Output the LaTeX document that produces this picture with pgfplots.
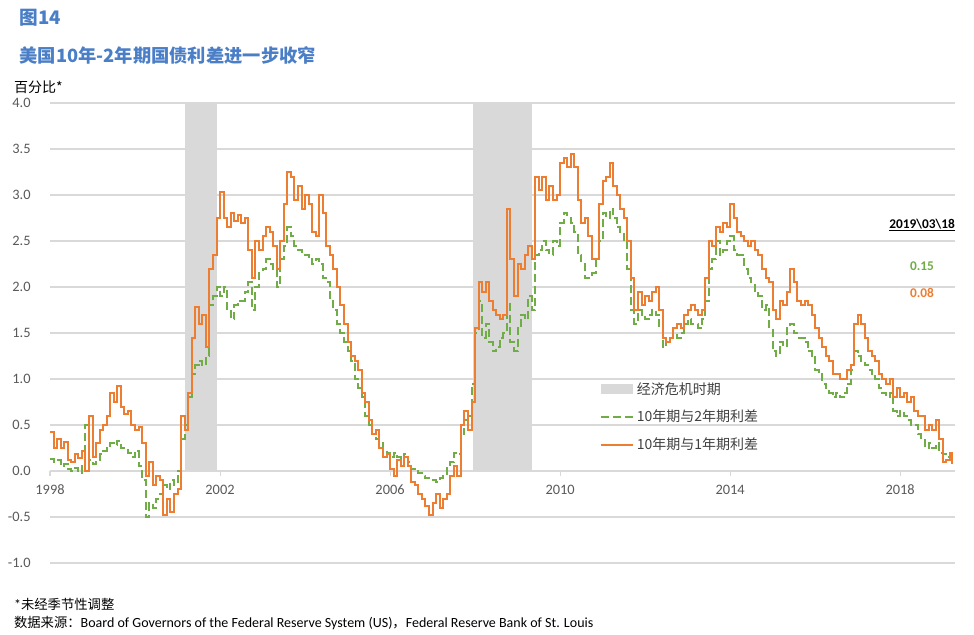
\documentclass[border=0pt]{standalone}
\usepackage{pgfplots}
\pgfplotsset{compat=1.18}
\usepackage{pgfplotstable}
\usepackage{fontspec}
\setmainfont{Carlito}
\newfontfamily\cjk{Noto Sans CJK SC}

\definecolor{ora}{HTML}{ED7D31}
\definecolor{grn}{HTML}{70AD47}
\definecolor{recess}{HTML}{D9D9D9}
\definecolor{gridc}{HTML}{D9D9D9}
\definecolor{tickc}{HTML}{595959}
\definecolor{legc}{HTML}{404040}
\definecolor{titleblue}{HTML}{4A7EC6}

\pgfplotsset{
  lineleg/.style={legend image code/.code={\draw[##1] (0cm,0cm) -- (0.85cm,0cm);}},
  boxleg/.style={legend image code/.code={\fill[recess] (0cm,-0.13cm) rectangle (0.85cm,0.13cm);}},
}

% monthly values: t = year, o = 10y-1y spread, g = 10y-2y spread
\pgfplotstableread[row sep=\\]{
t o g \\
1998.000 0.42 0.13 \\ 1998.083 0.25 0.10 \\ 1998.167 0.35 0.12 \\ 1998.250 0.25 0.05 \\ 1998.333 0.32 0.08 \\ 1998.417 0.12 0.02 \\
1998.500 0.10 0.00 \\ 1998.583 0.18 0.03 \\ 1998.667 0.14 -0.02 \\ 1998.750 0.22 0.08 \\ 1998.833 0.00 0.50 \\ 1998.917 0.60 0.12 \\
1999.000 0.15 0.08 \\ 1999.083 0.30 0.12 \\ 1999.167 0.45 0.18 \\ 1999.250 0.50 0.22 \\ 1999.333 0.60 0.25 \\ 1999.417 0.85 0.30 \\
1999.500 0.75 0.28 \\ 1999.583 0.92 0.33 \\ 1999.667 0.70 0.25 \\ 1999.750 0.62 0.25 \\ 1999.833 0.65 0.20 \\ 1999.917 0.50 0.15 \\
2000.000 0.45 0.22 \\ 2000.083 0.48 0.05 \\ 2000.167 0.30 -0.10 \\ 2000.250 -0.05 -0.50 \\ 2000.333 0.10 -0.35 \\ 2000.417 -0.15 -0.40 \\
2000.500 -0.05 -0.30 \\ 2000.583 -0.10 -0.25 \\ 2000.667 -0.48 -0.15 \\ 2000.750 -0.30 -0.20 \\ 2000.833 -0.45 -0.10 \\ 2000.917 -0.25 -0.15 \\
2001.000 -0.20 0.00 \\ 2001.083 0.60 0.35 \\ 2001.167 0.45 0.50 \\ 2001.250 0.85 0.80 \\ 2001.333 1.45 1.05 \\ 2001.417 1.78 1.15 \\
2001.500 1.60 1.20 \\ 2001.583 1.70 1.15 \\ 2001.667 1.35 1.25 \\ 2001.750 2.20 1.80 \\ 2001.833 2.35 1.90 \\ 2001.917 2.75 2.00 \\
2002.000 3.03 1.90 \\ 2002.083 2.75 2.00 \\ 2002.167 2.65 1.75 \\ 2002.250 2.80 1.65 \\ 2002.333 2.72 1.80 \\ 2002.417 2.78 1.85 \\
2002.500 2.70 1.85 \\ 2002.583 2.75 1.95 \\ 2002.667 2.40 2.05 \\ 2002.750 2.10 1.75 \\ 2002.833 2.50 2.00 \\ 2002.917 2.40 2.15 \\
2003.000 2.55 2.20 \\ 2003.083 2.65 2.30 \\ 2003.167 2.60 2.25 \\ 2003.250 2.45 2.20 \\ 2003.333 2.20 2.00 \\ 2003.417 2.50 2.30 \\
2003.500 2.90 2.45 \\ 2003.583 3.25 2.65 \\ 2003.667 3.20 2.55 \\ 2003.750 2.95 2.45 \\ 2003.833 3.10 2.40 \\ 2003.917 2.85 2.35 \\
2004.000 3.00 2.35 \\ 2004.083 2.90 2.30 \\ 2004.167 2.60 2.25 \\ 2004.250 2.55 2.30 \\ 2004.333 3.00 2.25 \\ 2004.417 2.80 2.10 \\
2004.500 2.45 2.05 \\ 2004.583 2.35 1.85 \\ 2004.667 2.20 1.75 \\ 2004.750 2.00 1.60 \\ 2004.833 1.80 1.50 \\ 2004.917 1.60 1.40 \\
2005.000 1.40 1.30 \\ 2005.083 1.25 1.20 \\ 2005.167 1.20 1.00 \\ 2005.250 1.10 0.90 \\ 2005.333 0.85 0.80 \\ 2005.417 0.75 0.60 \\
2005.500 0.55 0.50 \\ 2005.583 0.40 0.40 \\ 2005.667 0.45 0.35 \\ 2005.750 0.25 0.30 \\ 2005.833 0.15 0.22 \\ 2005.917 0.18 0.20 \\
2006.000 0.02 0.15 \\ 2006.083 -0.05 0.20 \\ 2006.167 0.12 0.15 \\ 2006.250 0.05 0.05 \\ 2006.333 0.15 0.18 \\ 2006.417 0.05 0.10 \\
2006.500 -0.12 0.02 \\ 2006.583 -0.15 0.00 \\ 2006.667 -0.25 -0.02 \\ 2006.750 -0.30 -0.05 \\ 2006.833 -0.38 -0.08 \\ 2006.917 -0.48 -0.10 \\
2007.000 -0.35 -0.10 \\ 2007.083 -0.25 -0.12 \\ 2007.167 -0.40 -0.08 \\ 2007.250 -0.30 -0.05 \\ 2007.333 -0.25 0.05 \\ 2007.417 -0.05 0.10 \\
2007.500 0.05 0.20 \\ 2007.583 -0.05 0.18 \\ 2007.667 0.50 0.40 \\ 2007.750 0.65 0.55 \\ 2007.833 0.45 0.60 \\ 2007.917 0.75 0.95 \\
2008.000 1.55 1.50 \\ 2008.083 2.05 1.85 \\ 2008.167 1.95 1.45 \\ 2008.250 2.05 1.60 \\ 2008.333 1.85 1.40 \\ 2008.417 1.75 1.30 \\
2008.500 1.70 1.35 \\ 2008.583 1.65 1.45 \\ 2008.667 1.70 1.50 \\ 2008.750 2.85 1.85 \\ 2008.833 2.30 1.40 \\ 2008.917 1.90 1.30 \\
2009.000 2.25 1.55 \\ 2009.083 2.20 1.70 \\ 2009.167 2.35 1.65 \\ 2009.250 2.45 1.90 \\ 2009.333 2.30 1.75 \\ 2009.417 3.20 2.35 \\
2009.500 3.05 2.40 \\ 2009.583 3.20 2.50 \\ 2009.667 2.95 2.40 \\ 2009.750 3.10 2.35 \\ 2009.833 2.95 2.50 \\ 2009.917 3.00 2.45 \\
2010.000 3.35 2.70 \\ 2010.083 3.40 2.80 \\ 2010.167 3.30 2.75 \\ 2010.250 3.45 2.70 \\ 2010.333 3.30 2.60 \\ 2010.417 2.95 2.35 \\
2010.500 2.70 2.25 \\ 2010.583 2.75 2.10 \\ 2010.667 2.55 2.10 \\ 2010.750 2.30 2.15 \\ 2010.833 2.30 2.30 \\ 2010.917 2.90 2.50 \\
2011.000 3.15 2.80 \\ 2011.083 3.20 2.75 \\ 2011.167 3.35 2.85 \\ 2011.250 3.10 2.75 \\ 2011.333 3.00 2.65 \\ 2011.417 2.85 2.60 \\
2011.500 2.75 2.50 \\ 2011.583 2.50 2.20 \\ 2011.667 2.10 1.75 \\ 2011.750 1.75 1.60 \\ 2011.833 1.95 1.75 \\ 2011.917 1.80 1.70 \\
2012.000 1.90 1.65 \\ 2012.083 1.85 1.70 \\ 2012.167 1.95 1.75 \\ 2012.250 2.00 1.70 \\ 2012.333 1.75 1.55 \\ 2012.417 1.45 1.35 \\
2012.500 1.40 1.40 \\ 2012.583 1.45 1.45 \\ 2012.667 1.55 1.50 \\ 2012.750 1.60 1.45 \\ 2012.833 1.55 1.50 \\ 2012.917 1.70 1.60 \\
2013.000 1.75 1.65 \\ 2013.083 1.80 1.60 \\ 2013.167 1.75 1.60 \\ 2013.250 1.70 1.55 \\ 2013.333 1.75 1.65 \\ 2013.417 2.10 1.85 \\
2013.500 2.50 2.20 \\ 2013.583 2.45 2.30 \\ 2013.667 2.65 2.50 \\ 2013.750 2.60 2.35 \\ 2013.833 2.70 2.40 \\ 2013.917 2.65 2.50 \\
2014.000 2.90 2.55 \\ 2014.083 2.75 2.40 \\ 2014.167 2.60 2.35 \\ 2014.250 2.55 2.35 \\ 2014.333 2.50 2.20 \\ 2014.417 2.45 2.10 \\
2014.500 2.50 2.05 \\ 2014.583 2.40 1.95 \\ 2014.667 2.35 1.90 \\ 2014.750 2.20 1.75 \\ 2014.833 2.10 1.80 \\ 2014.917 2.05 1.55 \\
2015.000 1.75 1.30 \\ 2015.083 1.65 1.25 \\ 2015.167 1.85 1.40 \\ 2015.250 1.80 1.35 \\ 2015.333 1.95 1.55 \\ 2015.417 2.20 1.60 \\
2015.500 2.05 1.50 \\ 2015.583 1.85 1.45 \\ 2015.667 1.80 1.45 \\ 2015.750 1.85 1.40 \\ 2015.833 1.80 1.30 \\ 2015.917 1.70 1.25 \\
2016.000 1.55 1.10 \\ 2016.083 1.45 1.05 \\ 2016.167 1.35 0.95 \\ 2016.250 1.25 0.90 \\ 2016.333 1.20 0.85 \\ 2016.417 1.05 0.80 \\
2016.500 1.05 0.85 \\ 2016.583 1.00 0.80 \\ 2016.667 1.00 0.85 \\ 2016.750 1.10 0.95 \\ 2016.833 1.15 1.10 \\ 2016.917 1.60 1.30 \\
2017.000 1.70 1.25 \\ 2017.083 1.60 1.20 \\ 2017.167 1.45 1.15 \\ 2017.250 1.30 1.10 \\ 2017.333 1.25 1.05 \\ 2017.417 1.20 1.00 \\
2017.500 1.05 0.90 \\ 2017.583 1.00 0.85 \\ 2017.667 0.95 0.80 \\ 2017.750 1.00 0.85 \\ 2017.833 0.80 0.65 \\ 2017.917 0.90 0.60 \\
2018.000 0.80 0.65 \\ 2018.083 0.85 0.60 \\ 2018.167 0.75 0.55 \\ 2018.250 0.80 0.50 \\ 2018.333 0.65 0.50 \\ 2018.417 0.60 0.40 \\
2018.500 0.60 0.35 \\ 2018.583 0.45 0.25 \\ 2018.667 0.50 0.30 \\ 2018.750 0.45 0.25 \\ 2018.833 0.55 0.30 \\ 2018.917 0.35 0.20 \\
2019.000 0.10 0.18 \\ 2019.083 0.12 0.15 \\ 2019.167 0.20 0.17 \\ 2019.220 0.08 0.15 \\
}\spread

\begin{document}
\begin{tikzpicture}
\path[use as bounding box] (0,0) rectangle (730.5pt,476.25pt);

\begin{axis}[
  at={(37.5pt,54pt)}, anchor=south west,
  scale only axis, width=678.75pt, height=345pt,
  xmin=1998, xmax=2019.29, ymin=-1, ymax=4,
  axis x line=middle, axis y line=left,
  x axis line style={-, draw=gridc, line width=0.8pt},
  y axis line style={draw=none},
  hide obscured x ticks=false,
  xtick={1998,2002,2006,2010,2014,2018},
  ytick={-1,-0.5,0,0.5,1,1.5,2,2.5,3,3.5,4},
  ymajorgrids, grid style={gridc, line width=0.8pt},
  tick align=outside, major tick length=4pt,
  xtick style={draw=gridc, line width=0.8pt},
  ytick style={draw=none},
  tick label style={font=\fontsize{10.8}{12}\selectfont, text=tickc},
  xticklabel style={yshift=-3pt, /pgf/number format/1000 sep={}},
  yticklabel style={xshift=-7pt, /pgf/number format/.cd, fixed, fixed zerofill, precision=1},
  /pgf/number format/assume math mode=true,
  clip=false,
  legend style={at={(0.603,0.405)}, anchor=north west, draw=none, fill=none,
    font=\cjk\fontsize{10.5}{12}\selectfont, text=legc, row sep=6.5pt},
  legend cell align=left,
]
\addplot[fill=recess, draw=none, boxleg]
  coordinates {(2001.17,0) (2001.17,4) (2001.92,4) (2001.92,0)} -- cycle;
\addlegendentry{经济危机时期}
\addplot[fill=recess, draw=none, forget plot]
  coordinates {(2007.95,0) (2007.95,4) (2009.34,4) (2009.34,0)} -- cycle;

\addplot[const plot, grn, line width=1.5pt, dash pattern=on 6pt off 3pt, lineleg]
  table[x=t, y=g] {\spread};
\addlegendentry{10年期与2年期利差}

\addplot[const plot, ora, line width=1.5pt, lineleg]
  table[x=t, y=o] {\spread};
\addlegendentry{10年期与1年期利差}
\end{axis}

\node[anchor=west, text=titleblue, font=\cjk\bfseries\fontsize{14}{16}\selectfont] at (11.25pt,462.75pt) {图14};
\node[anchor=west, text=titleblue, font=\cjk\bfseries\fontsize{13.7}{16}\selectfont] at (11.25pt,435pt) {美国10年-2年期国债利差进一步收窄};
\node[anchor=west, font=\cjk\fontsize{10.5}{12}\selectfont] at (7pt,411pt) {百分比*};

\node[font=\bfseries\fontsize{10}{12}\selectfont] at (691.5pt,307.5pt) {\underline{2019\textbackslash 03\textbackslash 18}};
\node[font=\bfseries\fontsize{10}{12}\selectfont, text=grn] at (691.5pt,276.75pt) {0.15};
\node[font=\bfseries\fontsize{10}{12}\selectfont, text=ora] at (691.5pt,256.5pt) {0.08};

\node[anchor=west, font=\fontsize{10.5}{12}\selectfont] at (7pt,23.25pt) {*{\cjk\fontsize{10}{12}\selectfont 未经季节性调整}};
\node[anchor=west, font=\fontsize{10.5}{12}\selectfont] at (7pt,9pt) {{\cjk\fontsize{10}{12}\selectfont 数据来源：}Board of Governors of the Federal Reserve System (US){\cjk\fontsize{10}{12}\selectfont ，}Federal Reserve Bank of St. Louis};
\end{tikzpicture}
\end{document}
